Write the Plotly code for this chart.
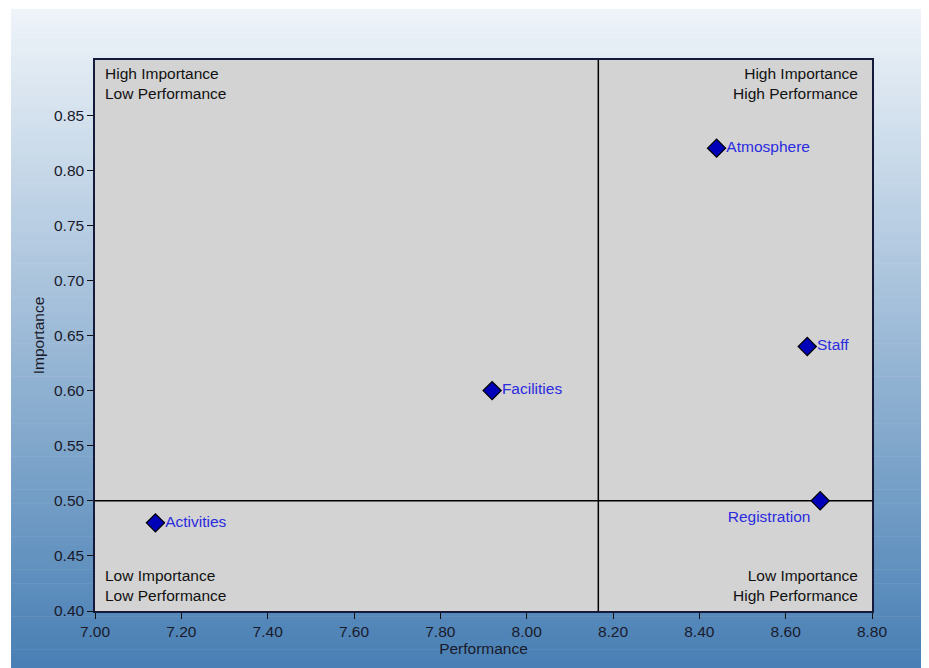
import plotly.graph_objects as go

# ---- data ----
attributes = ["Atmosphere", "Staff", "Facilities", "Activities", "Registration"]
performance = [8.44, 8.65, 7.92, 7.14, 8.68]
importance = [0.82, 0.64, 0.60, 0.48, 0.50]
importance_split = 0.50
x_ticks = [7.00, 7.20, 7.40, 7.60, 7.80, 8.00, 8.20, 8.40, 8.60, 8.80]
y_ticks = [0.40, 0.45, 0.50, 0.55, 0.60, 0.65, 0.70, 0.75, 0.80, 0.85]
quadrant_labels = {
    "tl": "High Importance<br>Low Performance",
    "tr": "High Importance<br>High Performance",
    "bl": "Low Importance<br>Low Performance",
    "br": "Low Importance<br>High Performance",
}

perf_mean = sum(performance) / len(performance)

# page offset of the figure (browser body margin)
OFF = 8
W, H = 929 - OFF, 668 - OFF
ML, MT = 95 - OFF, 60 - OFF
MR = W - (872 - OFF)
MB = H - (611 - OFF)
PW, PH = W - ML - MR, H - MT - MB

FONT = "Liberation Sans, Arial, sans-serif"
FS = 15.5

def px_to_paper_x(px):
    # px in page coordinates
    return (px - OFF - ML) / PW

def px_to_paper_y(py):
    return (H - MB - (py - OFF)) / PH

shapes = []
# gradient background panel
top_c = (239, 244, 249)
bot_c = (72, 127, 180)
g_top, g_bot = 9, 668
n = 140
for i in range(n):
    t = (i + 0.5) / n
    c = tuple(round(top_c[k] + (bot_c[k] - top_c[k]) * t) for k in range(3))
    y0p = g_top + (g_bot - g_top) * i / n
    y1p = g_top + (g_bot - g_top) * (i + 1) / n + 0.6
    shapes.append(dict(type="rect", xref="paper", yref="paper", layer="below",
                       x0=px_to_paper_x(11), x1=px_to_paper_x(930),
                       y0=px_to_paper_y(y1p), y1=px_to_paper_y(y0p),
                       line=dict(width=0), fillcolor="rgb(%d,%d,%d)" % c))
# plot area fill
shapes.append(dict(type="rect", xref="paper", yref="paper", layer="below",
                   x0=0, x1=1, y0=0, y1=1, line=dict(width=0), fillcolor="#d3d3d3"))
# quadrant lines
shapes.append(dict(type="line", xref="x", yref="paper", layer="below",
                   x0=perf_mean, x1=perf_mean, y0=0, y1=1,
                   line=dict(color="black", width=1.5)))
shapes.append(dict(type="line", xref="paper", yref="y", layer="below",
                   x0=0, x1=1, y0=importance_split, y1=importance_split,
                   line=dict(color="black", width=1.5)))

text_pos = ["bottom left" if a == "Registration" else "middle right" for a in attributes]

fig = go.Figure()
fig.add_trace(go.Scatter(
    x=performance, y=importance, text=attributes,
    mode="markers+text", textposition=text_pos,
    textfont=dict(family=FONT, size=FS, color="#2b2bdf"),
    marker=dict(symbol="diamond", size=14, color="#0000b8",
                line=dict(color="black", width=1.2)),
    showlegend=False, cliponaxis=False,
))

ann_font = dict(family=FONT, size=FS, color="#111111")
annotations = [
    dict(xref="paper", yref="paper", x=0, y=1, xanchor="left", yanchor="top",
         xshift=8, yshift=-3, text=quadrant_labels["tl"], showarrow=False,
         align="left", font=ann_font),
    dict(xref="paper", yref="paper", x=1, y=1, xanchor="right", yanchor="top",
         xshift=-12, yshift=-3, text=quadrant_labels["tr"], showarrow=False,
         align="right", font=ann_font),
    dict(xref="paper", yref="paper", x=0, y=0, xanchor="left", yanchor="bottom",
         xshift=8, yshift=5, text=quadrant_labels["bl"], showarrow=False,
         align="left", font=ann_font),
    dict(xref="paper", yref="paper", x=1, y=0, xanchor="right", yanchor="bottom",
         xshift=-12, yshift=5, text=quadrant_labels["br"], showarrow=False,
         align="right", font=ann_font),
]

axis_common = dict(showgrid=False, zeroline=False, showline=True, mirror=True,
                   linecolor="#151a3a", linewidth=1.5, ticks="outside",
                   ticklen=6, tickcolor="#111111", tickwidth=1,
                   tickfont=dict(family=FONT, size=FS, color="#1a1a2a"))

fig.update_layout(
    width=W, height=H,
    margin=dict(l=ML, r=MR, t=MT, b=MB, pad=0),
    paper_bgcolor="white",
    plot_bgcolor="rgba(0,0,0,0)",
    shapes=shapes,
    annotations=annotations,
    xaxis=dict(range=[7.0, 8.8], tickvals=x_ticks,
               ticktext=["%.2f" % v for v in x_ticks],
               title=dict(text="Performance", standoff=3,
                          font=dict(family=FONT, size=FS, color="#1a1a2a")),
               **axis_common),
    yaxis=dict(range=[0.40, 0.90], tickvals=y_ticks,
               ticktext=["%.2f" % v for v in y_ticks],
               title=dict(text="Importance", standoff=6,
                          font=dict(family=FONT, size=FS, color="#1a1a2a")),
               **axis_common),
)

fig.write_html("out.html")
